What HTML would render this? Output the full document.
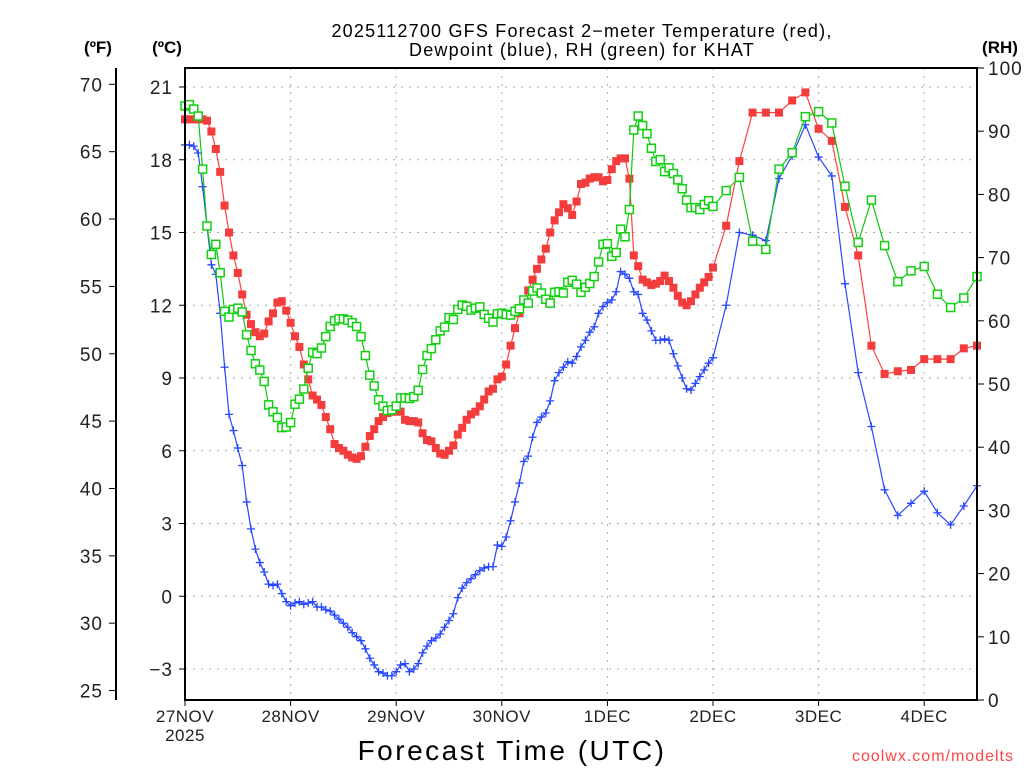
<!DOCTYPE html>
<html><head><meta charset="utf-8"><style>
html,body{margin:0;padding:0;background:#fff;}
svg{display:block;font-family:"Liberation Sans",sans-serif;}
</style></head><body>
<svg id="chart" width="1024" height="768" viewBox="0 0 1024 768" xmlns="http://www.w3.org/2000/svg">
<rect x="0" y="0" width="1024" height="768" fill="#fff"/>
<g id="grid"></g>
<g id="series"></g>
<g id="axes"></g>
<text x="582" y="37" font-size="18" text-anchor="middle" letter-spacing="1.2">2025112700 GFS Forecast 2−meter Temperature (red),</text>
<text x="582" y="56" font-size="18" text-anchor="middle" letter-spacing="1.2">Dewpoint (blue), RH (green) for KHAT</text>
<text x="98" y="53" font-size="17" font-weight="bold" text-anchor="middle">(ºF)</text>
<text x="167" y="53" font-size="17" font-weight="bold" text-anchor="middle">(ºC)</text>
<text x="1000" y="53" font-size="17" font-weight="bold" text-anchor="middle">(RH)</text>
<text x="512" y="760" font-size="28" text-anchor="middle" letter-spacing="2.5">Forecast Time (UTC)</text>
<text x="1014" y="761" font-size="16" fill="#ff4444" text-anchor="end" letter-spacing="1">coolwx.com/modelts</text>
</svg>
<script>
// forecast hours
const hours = [];
for (let h = 0; h <= 120; h++) hours.push(h);
for (let h = 123; h <= 180; h += 3) hours.push(h);

const tempF = [67.4,67.4,67.4,67.4,67.4,67.3,66.5,65.2,63.5,61.0,59.0,57.3,56.0,54.4,52.9,52.2,51.6,51.3,51.5,52.4,53.0,53.8,53.9,53.2,52.3,51.3,50.5,49.2,48.1,46.9,46.6,46.2,45.3,44.4,43.3,43.0,42.8,42.5,42.3,42.2,42.4,43.1,43.9,44.4,45.0,45.3,45.6,45.7,45.7,
45.7,45.1,45.0,45.0,44.9,44.1,43.6,43.5,43.0,42.6,42.5,42.8,43.2,44.0,44.5,45.1,45.5,45.7,46.1,46.6,47.2,47.4,48.1,48.3,49.2,50.6,51.9,53.0,54.0,54.7,55.5,56.3,57.0,57.8,59.0,59.9,60.5,61.1,60.8,60.3,61.3,62.6,62.7,63.0,63.1,63.1,62.8,62.9,
63.7,64.3,64.5,64.5,63.0,57.3,56.5,55.5,55.3,55.1,55.2,55.4,55.8,55.4,54.9,54.3,53.8,53.6,53.9,54.4,54.9,55.3,55.7,56.4,
59.5,64.3,67.9,67.9,67.9,68.8,69.4,66.7,65.8,60.9,57.3,50.6,48.5,48.7,48.8,49.6,49.6,49.6,50.4,50.6];

const dewF = [65.5,65.5,65.4,64.9,62.4,59.5,56.6,55.9,53.0,49.0,45.5,44.3,43.0,41.7,39.0,37.0,35.5,34.5,33.8,32.9,32.8,32.9,32.2,31.6,31.3,31.5,31.6,31.4,31.5,31.6,31.2,31.2,31.0,30.9,30.6,30.3,30.0,29.7,29.3,29.0,28.7,28.1,27.4,26.9,26.4,26.3,26.1,26.1,26.4,
26.9,27.0,26.4,26.6,27.0,27.8,28.3,28.7,28.9,29.2,29.7,30.2,30.7,31.9,32.6,33.0,33.3,33.6,33.9,34.1,34.2,34.2,35.8,35.7,36.4,37.6,39.0,40.4,42.0,42.4,43.8,44.9,45.3,45.6,46.5,48.0,48.6,49.0,49.4,49.3,49.8,50.5,51.0,51.6,52.0,53.0,53.5,53.8,
54.0,54.6,56.1,55.9,55.6,54.6,54.4,53.0,52.5,51.7,51.0,51.0,51.1,51.0,50.0,49.1,48.2,47.4,47.3,47.8,48.3,48.8,49.3,49.7,
53.6,59.0,58.8,58.4,63.0,64.7,67.0,64.6,63.2,55.2,48.6,44.6,39.9,38.0,38.9,39.8,38.2,37.3,38.7,40.2];

const rh = [94.0,94.2,93.5,92.4,84.0,75.0,70.5,72.1,67.6,61.5,60.6,61.8,62.0,61.4,57.8,55.3,53.2,52.2,50.4,46.7,45.6,44.7,43.1,43.2,43.9,46.8,47.6,49.2,52.5,55.0,54.8,55.7,57.5,59.1,60.0,60.3,60.3,60.1,59.7,59.1,57.5,54.5,51.4,49.7,47.5,46.5,45.8,45.9,46.5,
47.8,47.8,47.7,48.0,49.0,52.3,54.5,55.6,57.0,58.4,59.0,60.5,60.2,61.8,62.5,62.3,61.7,62.0,62.2,61.0,60.4,59.8,61.1,61.2,61.0,60.9,61.5,61.9,63.3,62.8,64.7,65.2,64.4,63.4,62.8,64.5,64.6,64.4,66.1,66.4,65.8,64.5,65.3,65.9,67.0,69.3,72.1,72.2,
70.2,70.8,74.5,73.3,77.6,90.2,92.4,90.9,89.6,87.3,85.2,85.5,83.6,84.2,83.3,82.3,80.9,79.1,77.9,77.9,77.6,78.4,79.0,78.1,
80.6,82.7,72.6,71.3,84.0,86.6,92.3,93.1,91.3,81.3,72.4,79.1,71.9,66.2,67.9,68.6,64.2,62.1,63.6,67.0];

const dayLabels = ["27NOV","28NOV","29NOV","30NOV","1DEC","2DEC","3DEC","4DEC"];
const fTicks = [25,30,35,40,45,50,55,60,65,70];
const cTicks = [-3,0,3,6,9,12,15,18,21];
const rhTicks = [0,10,20,30,40,50,60,70,80,90,100];

const NS = "http://www.w3.org/2000/svg";
const X0 = 185, X1 = 977, Y0 = 68, Y1 = 700;
const xS = h => X0 + h * (X1 - X0) / 180;
const yC = c => 669 - (c + 3) * 24.25;
const yF = f => yC((f - 32) / 1.8);
const yR = r => Y1 - r * (Y1 - Y0) / 100;

function mk(tag, attrs, parent, text) {
  const e = document.createElementNS(NS, tag);
  for (const k in attrs) e.setAttribute(k, attrs[k]);
  if (text !== undefined) e.textContent = text;
  parent.appendChild(e);
  return e;
}
const grid = document.getElementById("grid");
const axes = document.getElementById("axes");
const series = document.getElementById("series");

cTicks.forEach(c => {
  const l = mk("line", {x1:X0, x2:X1, y1:yC(c), y2:yC(c), stroke:"#aaa", "stroke-width":1, "stroke-dasharray":"2,6"}, grid);
  
  
});
dayLabels.forEach((d, i) => {
  if (i === 0) return;
  const x = xS(i * 24);
  const l = mk("line", {x1:x, x2:x, y1:Y0, y2:Y1, stroke:"#aaa", "stroke-width":1, "stroke-dasharray":"2,6"}, grid);
  
  
});

function drawLine(vals, yfn, color, name) {
  const pts = vals.map((v, i) => xS(hours[i]).toFixed(1) + "," + yfn(v).toFixed(1)).join(" ");
  const p = mk("polyline", {points:pts, fill:"none", stroke:color, "stroke-width":1.2}, series);
  
  
}
drawLine(tempF, yF, "#ff4040", "temperature");
tempF.forEach((v, i) => {
  const r = mk("rect", {x:xS(hours[i]) - 4, y:yF(v) - 4, width:8, height:8, fill:"#f33c3c"}, series);
  
  
});
drawLine(dewF, yF, "#2848ff", "dewpoint");
dewF.forEach((v, i) => {
  const x = xS(hours[i]), y = yF(v);
  const p = mk("path", {d:`M${x-4},${y}H${x+4}M${x},${y-4}V${y+4}`, stroke:"#2848ff", "stroke-width":1.3, fill:"none"}, series);
  
  
});
drawLine(rh, yR, "#10c810", "rh");
rh.forEach((v, i) => {
  const r = mk("rect", {x:xS(hours[i]) - 4, y:yR(v) - 4, width:8, height:8, fill:"#fff", stroke:"#10d010", "stroke-width":1.5}, series);
  
  
});

const frame = mk("rect", {x:X0, y:Y0, width:X1 - X0, height:Y1 - Y0, fill:"none", stroke:"#000", "stroke-width":2}, axes);


const fAxis = mk("line", {x1:116, x2:116, y1:Y0, y2:Y1, stroke:"#000", "stroke-width":2}, axes);



fTicks.forEach(f => {
  const y = yF(f);
  const t = mk("line", {x1:109, x2:116, y1:y, y2:y, stroke:"#000", "stroke-width":1}, axes);
  
  
  const l = mk("text", {x:103, y:y + 7, "font-size":19, "text-anchor":"end", fill:"#222", "letter-spacing":1}, axes, String(f));
  
  
});
cTicks.forEach(c => {
  const y = yC(c);
  const t = mk("line", {x1:179, x2:185, y1:y, y2:y, stroke:"#000", "stroke-width":1}, axes);
  
  
  const l = mk("text", {x:173, y:y + 7, "font-size":19, "text-anchor":"end", fill:"#222", "letter-spacing":1}, axes, c < 0 ? "−" + Math.abs(c) : String(c));
  
  
});
rhTicks.forEach(r => {
  const y = yR(r);
  const t = mk("line", {x1:977, x2:984, y1:y, y2:y, stroke:"#000", "stroke-width":1}, axes);
  
  
  const l = mk("text", {x:988, y:y + 7, "font-size":19, "text-anchor":"start", fill:"#222", "letter-spacing":1}, axes, String(r));
  
  
});
dayLabels.forEach((d, i) => {
  const x = xS(i * 24);
  const t = mk("line", {x1:x, x2:x, y1:Y1, y2:Y1 + 6, stroke:"#000", "stroke-width":1}, axes);
  
  
  const l = mk("text", {x:x, y:722, "font-size":17, "text-anchor":"middle", fill:"#222", "letter-spacing":0.5}, axes, d);
  
  
});
const yr = mk("text", {x:xS(0), y:741, "font-size":17, "text-anchor":"middle", fill:"#222", "letter-spacing":0.5}, axes, "2025");


</script>
</body></html>
